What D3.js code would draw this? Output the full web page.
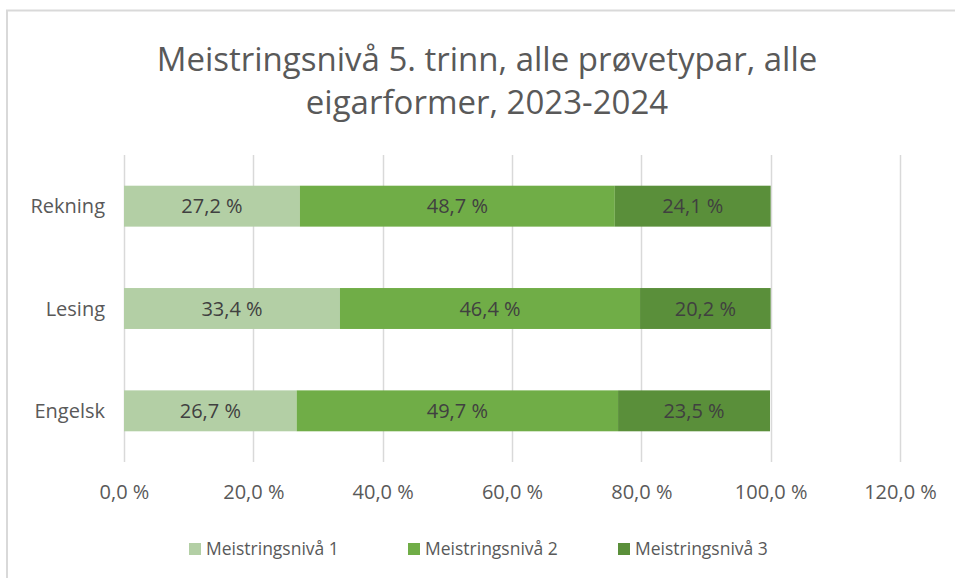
<!DOCTYPE html>
<html>
<head>
    <meta charset="utf-8" />
    <script src="https://d3js.org/d3.v7.min.js"></script>
    <style>
        body { margin: 0; background: #fff; }
        text { font-family: "Open Sans", sans-serif; }
    </style>
</head>
<body>
    <script type="text/javascript">
        var categories = ["Rekning", "Lesing", "Engelsk"];
        var seriesNames = ["Meistringsnivå 1", "Meistringsnivå 2", "Meistringsnivå 3"];
        var niva1 = [27.2, 33.4, 26.7];
        var niva2 = [48.7, 46.4, 49.7];
        var niva3 = [24.1, 20.2, 23.5];
        var tickValues = [0, 20, 40, 60, 80, 100, 120];
        var colors = ["#b3cfa5", "#70ad47", "#5a8f3a"];

        var w = 955, h = 578;
        var margin = {top: 155, right: 52, bottom: 116, left: 124};

        var svg = d3.select("body").append("svg")
            .attr("width", w)
            .attr("height", h);

        // chart frame
        svg.append("rect")
            .attr("x", 7).attr("y", 10.5)
            .attr("width", w + 10).attr("height", h + 10)
            .attr("fill", "#fff")
            .attr("stroke", "#d9d9d9")
            .attr("stroke-width", 2);

        svg.append("text")
            .attr("x", 487).attr("y", 71)
            .attr("text-anchor", "middle")
            .attr("fill", "#595959")
            .style("font-size", "33px")
            .text("Meistringsnivå  5. trinn, alle prøvetypar, alle");
        svg.append("text")
            .attr("x", 487).attr("y", 114)
            .attr("text-anchor", "middle")
            .attr("fill", "#595959")
            .style("font-size", "33px")
            .text("eigarformer, 2023-2024");

        var x = d3.scaleLinear().domain([0, 120])
            .range([margin.left, 900]);
        var y = d3.scaleBand().domain(categories)
            .range([margin.top, h - margin.bottom])
            .paddingInner(0.6).paddingOuter(0.3);

        // gridlines
        svg.append("g").selectAll("line")
            .data(tickValues)
            .enter().append("line")
            .attr("x1", d => Math.round(x(d)) + 0.5)
            .attr("x2", d => Math.round(x(d)) + 0.5)
            .attr("y1", margin.top)
            .attr("y2", h - margin.bottom)
            .attr("stroke", "#d9d9d9")
            .attr("stroke-width", 1.5);

        var rows = categories.map(function(c, i) {
            return {cat: c, n1: niva1[i], n2: niva2[i], n3: niva3[i]};
        });
        var stack = d3.stack().keys(["n1", "n2", "n3"]);
        var layers = stack(rows);

        var groups = svg.append("g").selectAll("g")
            .data(layers)
            .enter().append("g")
            .attr("fill", (d, i) => colors[i]);

        groups.selectAll("rect")
            .data(d => d)
            .enter().append("rect")
            .attr("x", d => x(d[0]))
            .attr("y", d => y(d.data.cat))
            .attr("width", d => x(d[1]) - x(d[0]))
            .attr("height", y.bandwidth());

        groups.selectAll("text")
            .data(d => d)
            .enter().append("text")
            .attr("x", d => (x(d[0]) + x(d[1])) / 2)
            .attr("y", d => y(d.data.cat) + y.bandwidth() / 2)
            .attr("dy", "0.35em")
            .attr("text-anchor", "middle")
            .attr("fill", "#404040")
            .style("font-size", "20px")
            .text(d => d3.format(".1f")(d[1] - d[0]).replace(".", ",") + " %");

        // category labels
        svg.append("g").selectAll("text")
            .data(categories)
            .enter().append("text")
            .attr("x", 105)
            .attr("y", d => y(d) + y.bandwidth() / 2)
            .attr("dy", "0.35em")
            .attr("text-anchor", "end")
            .attr("fill", "#595959")
            .style("font-size", "20px")
            .text(d => d);

        // x axis
        var xAxis = d3.axisBottom(x)
            .tickValues(tickValues)
            .tickSize(0)
            .tickPadding(23)
            .tickFormat(d => d3.format(".1f")(d).replace(".", ",") + " %");
        var ax = svg.append("g")
            .attr("transform", "translate(0," + (h - margin.bottom) + ")")
            .call(xAxis);
        ax.select(".domain").remove();
        ax.selectAll("text")
            .attr("fill", "#595959")
            .style("font-size", "20px");

        // legend
        var legX = [189, 408, 618];
        var leg = svg.append("g").selectAll("g")
            .data(seriesNames)
            .enter().append("g")
            .attr("transform", (d, i) => "translate(" + legX[i] + ",549)");
        leg.append("rect")
            .attr("x", 0).attr("y", -6)
            .attr("width", 12).attr("height", 12)
            .attr("fill", (d, i) => colors[i]);
        leg.append("text")
            .attr("x", 17).attr("dy", "0.35em")
            .attr("fill", "#595959")
            .style("font-size", "17.5px")
            .text(d => d);
    </script>
</body>
</html>
